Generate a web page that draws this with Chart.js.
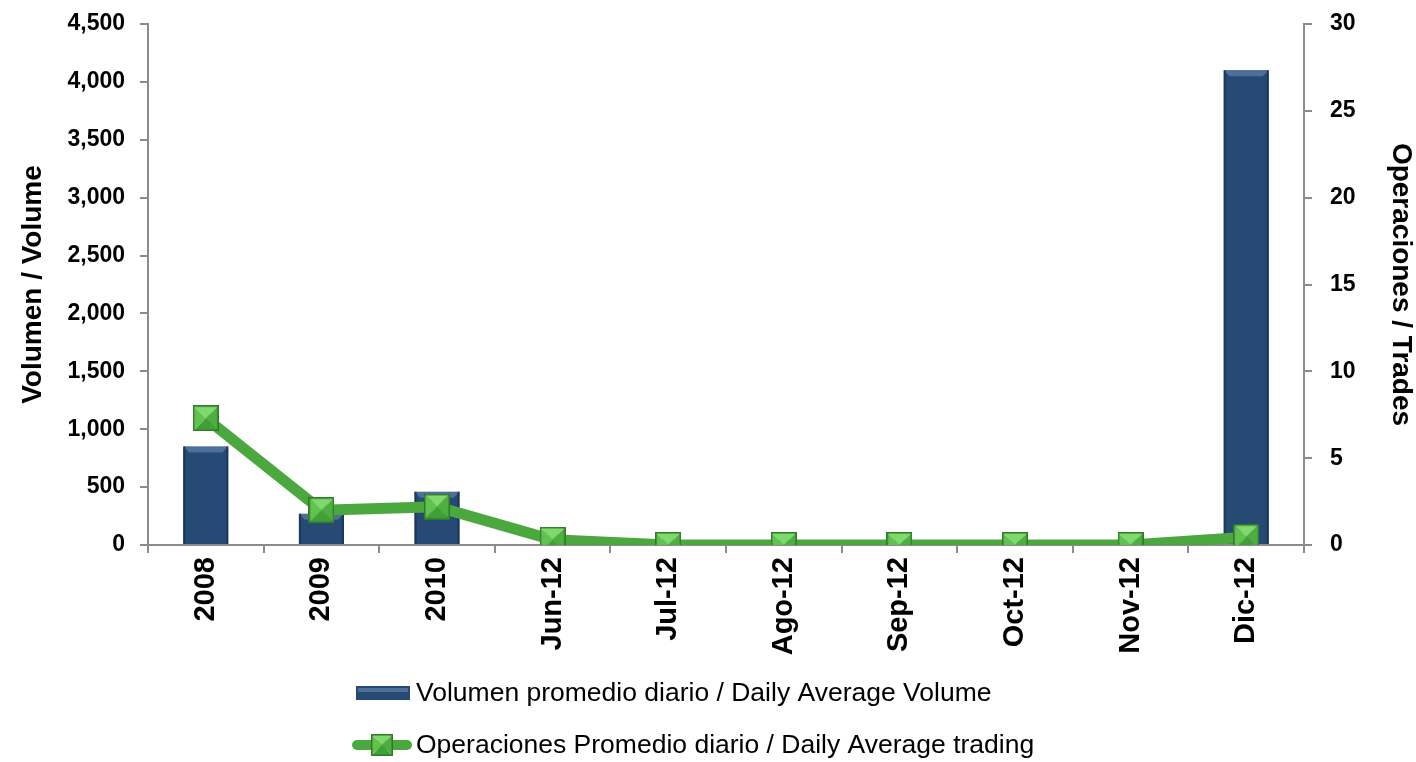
<!DOCTYPE html>
<html>
<head>
<meta charset="utf-8">
<script src="https://cdn.jsdelivr.net/npm/chart.js@4"></script>
<style>
  html, body { margin:0; padding:0; background:#fff; }
  #wrap { width:1416px; height:762px; position:relative; }
</style>
</head>
<body>
<div id="wrap"><canvas id="chart" width="1416" height="762"></canvas></div>
<script>
// values
const periods   = ['2008','2009','2010','Jun-12','Jul-12','Ago-12','Sep-12','Oct-12','Nov-12','Dic-12'];
const volume    = [850, 270, 460, 0, 0, 0, 0, 0, 0, 4100];
const trades    = [7.3, 2.0, 2.2, 0.3, 0, 0, 0, 0, 0, 0.45];
const volTicks  = [0, 500, 1000, 1500, 2000, 2500, 3000, 3500, 4000, 4500];
const tradeTicks = [0, 5, 10, 15, 20, 25, 30];

const volLabel   = 'Volumen promedio diario / Daily Average Volume';
const tradeLabel = 'Operaciones Promedio diario / Daily Average trading';

const NAVY = '#264a73', GREEN = '#4aa83f';
const axisGrey = '#8c8c8c';
const FAMILY = '"Liberation Sans", Arial, sans-serif';

// bevelled green square used as marker
function makeMarker(s) {
  const c = document.createElement('canvas');
  c.width = s; c.height = s;
  const g = c.getContext('2d');
  const m = s / 2;
  const tri = (pts, col) => { g.beginPath(); g.moveTo(pts[0],pts[1]); g.lineTo(pts[2],pts[3]); g.lineTo(m,m); g.closePath(); g.fillStyle = col; g.fill(); };
  tri([0,0,s,0], '#80d96d');
  tri([s,0,s,s], '#4fae40');
  tri([0,s,s,s], '#40a035');
  tri([0,0,0,s], '#62c250');
  g.strokeStyle = '#2e7a28'; g.lineWidth = 1.5;
  g.strokeRect(0.75, 0.75, s - 1.5, s - 1.5);
  return c;
}
const marker = makeMarker(26);
const legendMarker = makeMarker(22);

// light bevel on top of each bar, drawn on the bar elements Chart.js laid out
const bevelPlugin = {
  id: 'barBevel',
  afterDatasetDraw(chart, args) {
    const meta = args.meta;
    if (meta.type !== 'bar') return;
    const ctx = chart.ctx;
    ctx.save();
    meta.data.forEach(bar => {
      const h = bar.base - bar.y;
      if (h < 2) return;
      const l = bar.x - bar.width / 2, r = bar.x + bar.width / 2, t = bar.y;
      const b = Math.min(6, h / 2);
      ctx.fillStyle = '#4d6f99';
      ctx.beginPath(); ctx.moveTo(l, t); ctx.lineTo(r, t); ctx.lineTo(r - b, t + b); ctx.lineTo(l + b, t + b); ctx.closePath(); ctx.fill();
      ctx.fillStyle = '#1c3859';
      ctx.fillRect(r - 2, t, 2, h);
      ctx.fillRect(l, t, 2, h);
    });
    ctx.restore();
  }
};

const legendPlugin = {
  id: 'rowsLegend',
  afterDraw(chart) {
    const ctx = chart.ctx;
    ctx.save();
    ctx.font = '26.5px ' + FAMILY;
    ctx.textBaseline = 'middle';
    const x0 = 352, iconW = 60, tx = 416;
    // row 1: bar swatch
    const y1 = 693;
    ctx.fillStyle = NAVY;
    ctx.fillRect(x0 + 4, y1 - 7, iconW - 6, 14);
    ctx.fillStyle = '#4d6f99';
    ctx.fillRect(x0 + 6, y1 - 5, iconW - 10, 4);
    ctx.fillStyle = '#000';
    ctx.fillText(volLabel, tx, y1 + 1);
    // row 2: line + marker
    const y2 = 745;
    ctx.strokeStyle = GREEN; ctx.lineWidth = 10; ctx.lineCap = 'round';
    ctx.beginPath(); ctx.moveTo(x0 + 5, y2); ctx.lineTo(x0 + iconW - 5, y2); ctx.stroke();
    ctx.drawImage(legendMarker, x0 + iconW / 2 - 11, y2 - 11);
    ctx.fillText(tradeLabel, tx, y2 + 1);
    ctx.restore();
  }
};

const tickFont = { family: FAMILY, size: 23, weight: 'bold' };
const titleFont = { family: FAMILY, size: 28, weight: 'bold', lineHeight: 1 };

new Chart(document.getElementById('chart'), {
  data: {
    labels: periods,
    datasets: [
      { type: 'line', label: tradeLabel, data: trades, yAxisID: 'y2', borderColor: GREEN, borderWidth: 11,
        pointStyle: marker, pointRadius: 13, tension: 0, order: 0 },
      { type: 'bar', label: volLabel, data: volume, yAxisID: 'y', backgroundColor: NAVY,
        borderColor: '#1b3556', borderWidth: 1, categoryPercentage: 1, barPercentage: 0.39, order: 1 }
    ]
  },
  options: {
    responsive: false, animation: false,
    layout: { padding: 0 },
    plugins: { legend: { display: false }, tooltip: { enabled: false } },
    scales: {
      x: {
        grid: { drawOnChartArea: false, color: axisGrey, lineWidth: 2, tickLength: 8, offset: true },
        border: { color: axisGrey, width: 2 },
        ticks: { color: '#000', font: { family: FAMILY, size: 29, weight: 'bold' }, minRotation: 90, maxRotation: 90, padding: 4 },
        afterFit(s) { s.height = 217; s.paddingLeft = 0; s.paddingRight = 0; }
      },
      y: {
        position: 'left', min: 0, max: 4500,
        afterBuildTicks(s) { s.ticks = volTicks.map(v => ({ value: v })); },
        grid: { drawOnChartArea: false, color: axisGrey, lineWidth: 2, tickLength: 8 },
        border: { color: axisGrey, width: 2 },
        ticks: { color: '#000', font: tickFont, padding: 15, callback: v => v.toLocaleString('en-US') },
        title: { display: true, text: 'Volumen / Volume', color: '#000', font: titleFont, padding: { top: 19, bottom: 0 } },
        afterFit(s) { s.width = 148; s.paddingTop = 24; s.paddingBottom = 0; }
      },
      y2: {
        position: 'right', min: 0, max: 30,
        afterBuildTicks(s) { s.ticks = tradeTicks.map(v => ({ value: v })); },
        grid: { drawOnChartArea: false, color: axisGrey, lineWidth: 2, tickLength: 8 },
        border: { color: axisGrey, width: 2 },
        ticks: { color: '#000', font: tickFont, padding: 18 },
        title: { display: true, text: 'Operaciones / Trades', color: '#000', font: titleFont, padding: { top: 1, bottom: 0 } },
        afterFit(s) { s.width = 112; s.paddingTop = 24; s.paddingBottom = 0; }
      }
    }
  },
  plugins: [bevelPlugin, legendPlugin]
});
</script>
</body>
</html>
